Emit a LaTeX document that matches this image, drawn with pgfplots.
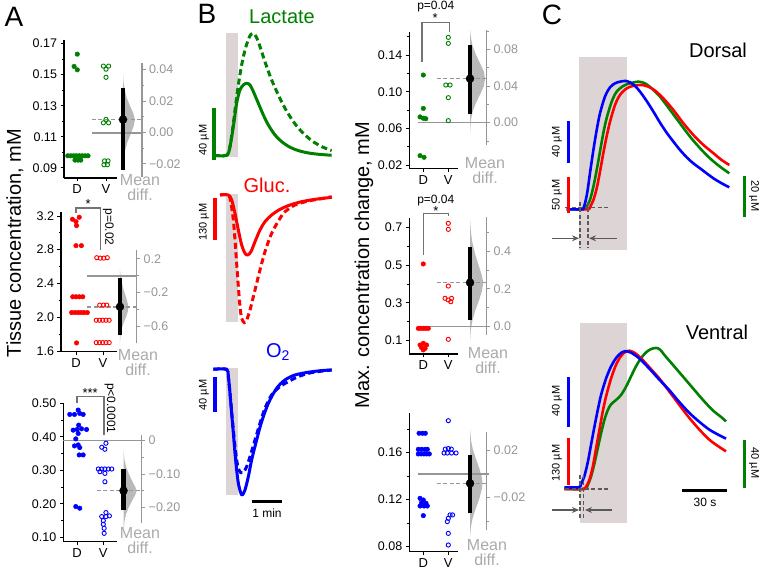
\documentclass[border=0pt]{standalone}
\usepackage{fontspec}
\setmainfont{Liberation Sans}
\usepackage{pgfplots}
\pgfplotsset{compat=1.18}
\usetikzlibrary{arrows.meta}
\definecolor{dgreen}{RGB}{0,128,0}
\definecolor{gcol}{RGB}{150,150,150}
\definecolor{tcol}{RGB}{170,170,170}
\definecolor{stimc}{RGB}{221,213,213}
\definecolor{vcol}{RGB}{185,185,185}
\definecolor{bcol}{RGB}{115,115,115}
\definecolor{acol}{RGB}{90,90,90}
\newcommand{\fs}[1]{\fontsize{#1}{#1}\selectfont}
\tikzset{brk/.style={bcol, line width=1.5pt}, btxt/.style={inner sep=0pt}}
\pgfplotsset{
 swarm/.style={scale only axis, clip=false, anchor=south west,
  axis x line=bottom, axis y line=left,
  axis line style={-, line width=1.4pt, black},
  tick align=outside, major tick length=3.5pt, minor tick length=2pt,
  tick style={black, line width=0.8pt}, scaled y ticks=false,
  xtick={1,2}, xticklabels={D,V},
  x tick label style={font=\fs{13}},
  y tick label style={font=\fs{12.5}},
  yticklabel style={/pgf/number format/fixed, /pgf/number format/fixed zerofill, /pgf/number format/assume math mode=true}},
 diffax/.style={scale only axis, clip=false, anchor=south east, width=0.5pt,
  xmin=0, xmax=1, axis x line=none, axis y line=right, xtick=\empty,
  scaled y ticks=false, scaled x ticks=false,
  axis line style={-, line width=1.4pt, gcol},
  tick align=outside, major tick length=3.5pt, minor tick length=2pt,
  tick style={gcol, line width=0.8pt},
  y tick label style={font=\fs{12.5}, text=gcol}},
 bpanel/.style={scale only axis, clip=false, hide axis, anchor=south west, scaled ticks=false},
 meanl/.style={gcol, line width=1.5pt},
 dashl/.style={gcol, line width=1.5pt, dash pattern=on 4pt off 2.5pt},
 ci/.style={black, line width=4.5pt},
 mdot/.style={only marks, mark=*, mark size=4pt, black},
 viol/.style={fill=vcol, draw=none},
 fdot/.style={only marks, mark=*, mark size=2.3pt},
 odot/.style={only marks, mark=o, mark size=2.1pt, mark options={line width=0.9pt}},
 sol/.style={line width=3pt, smooth, line join=round},
 dsh/.style={line width=3pt, smooth, dash pattern=on 6pt off 3.5pt},
 cl/.style={line width=2.6pt, smooth, line join=round}
}
\begin{document}
\begin{tikzpicture}[x=1pt,y=1pt]
\useasboundingbox (0,0) rectangle (762,569);
% panel letters and labels
\node[font=\fs{28}] at (14,552) {A};
\node[font=\fs{28}] at (207,555) {B};
\node[font=\fs{28}] at (552,554) {C};
\node[font=\fs{20}, rotate=90] at (15,326) {Tissue concentration, mM};
\node[font=\fs{20}, rotate=90] at (364,304) {Max. concentration change, mM};
% mean diff labels
\foreach \x/\y in {140/381, 138/206, 140/28, 485/398, 488/208, 487/16}
  \node[font=\fs{16}, text=tcol, align=center, inner sep=0pt] at (\x,\y) {Mean\\[-1pt]diff.};
% stimulus shading
\fill[stimc] (226,536) rectangle (238,412);
\fill[stimc] (226,375) rectangle (238,247);
\fill[stimc] (226,201) rectangle (238,74);
\fill[stimc] (579,512) rectangle (627,319);
\fill[stimc] (580,246) rectangle (627,46);

%================ A1 =================
\begin{axis}[swarm, at={(64pt,391pt)}, width=53pt, height=138pt,
 xmin=0.552, xmax=2.379, ymin=0.0835, ymax=0.1723,
 ytick={0.09,0.11,0.13,0.15,0.17}, minor ytick={0.10,0.12,0.14,0.16},
 yticklabel style={/pgf/number format/precision=2}]
\addplot[viol] coordinates {(2.586,0.150) (2.606,0.145) (2.646,0.140) (2.716,0.135) (2.826,0.130) (2.946,0.125) (2.996,0.121) (2.956,0.117) (2.856,0.112) (2.746,0.107) (2.666,0.102) (2.616,0.097) (2.596,0.092) (2.586,0.087)};
\addplot[meanl] coordinates {(1.517,0.1126) (3.241,0.1126)};
\addplot[dashl] coordinates {(1.517,0.1211) (3.241,0.1211)};
\addplot[ci] coordinates {(2.586,0.0889) (2.586,0.1414)};
\addplot[mdot] coordinates {(2.586,0.1211)};
\addplot[fdot, dgreen] coordinates {(1.01,0.1632) (0.90,0.1553) (1.01,0.1531) (0.68,0.0978) (0.78,0.0978) (0.88,0.0978) (0.98,0.0978) (1.08,0.0978) (1.18,0.0978) (1.28,0.0978) (1.38,0.0978) (0.93,0.0950) (1.03,0.0950) (1.13,0.0950)};
\addplot[odot, dgreen] coordinates {(1.91,0.1555) (2.09,0.1555) (2.0,0.1535) (2.0,0.1483) (2.0,0.1212) (1.91,0.1190) (2.09,0.1190) (1.95,0.0945) (2.07,0.0945) (1.93,0.0920) (2.05,0.0920)};
\end{axis}
\begin{axis}[diffax, at={(142pt,392pt)}, height=114pt, ymin=-0.0284, ymax=0.0442,
 ytick={-0.02,0,0.02,0.04}, yticklabels={−0.02,0.00,0.02,0.04}, minor ytick={-0.01,0.01,0.03}]
\end{axis}

%================ A2 =================
\begin{axis}[swarm, at={(61pt,217.2pt)}, width=56pt, height=140.1pt,
 xmin=0.444, xmax=2.52, ymin=1.59, ymax=3.25,
 ytick={1.6,2.0,2.4,2.8,3.2}, minor ytick={1.8,2.2,2.6,3.0},
 yticklabel style={/pgf/number format/precision=1}]
\addplot[viol] coordinates {(2.63,2.56) (2.65,2.50) (2.68,2.44) (2.72,2.38) (2.77,2.32) (2.83,2.26) (2.89,2.20) (2.93,2.14) (2.93,2.08) (2.88,2.02) (2.80,1.96) (2.73,1.90) (2.68,1.84) (2.65,1.78) (2.63,1.70)};
\addplot[meanl] coordinates {(1.42,2.491) (3.25,2.491)};
\addplot[dashl] coordinates {(1.42,2.123) (3.25,2.123)};
\addplot[ci] coordinates {(2.63,1.786) (2.63,2.459)};
\addplot[mdot] coordinates {(2.63,2.123)};
\draw[brk] (axis cs:1.0,3.232) -- (axis cs:1.0,3.291) -- (axis cs:1.91,3.291) -- (axis cs:1.91,2.796);
\node[btxt, font=\fs{13}] at (axis cs:1.45,3.34) {*};
\node[btxt, font=\fs{12}, rotate=-90] at (axis cs:2.2,3.07) {p=0.02};
\addplot[fdot, red] coordinates {(0.87,3.160) (1.0,3.133) (1.12,3.184) (1.02,3.085) (1.0,2.848) (1.2,2.848) (0.88,2.242) (1.0,2.242) (1.12,2.242) (1.25,2.242) (0.84,2.055) (0.96,2.055) (1.08,2.055) (1.19,2.055) (1.30,2.055) (1.42,2.055) (1.02,1.695)};
\addplot[odot, red] coordinates {(1.77,2.705) (1.90,2.700) (2.03,2.700) (2.16,2.705) (1.88,2.143) (2.02,2.143) (2.14,2.143) (1.75,1.964) (1.87,1.964) (1.99,1.964) (2.11,1.964) (2.23,1.964) (1.75,1.699) (1.87,1.699) (1.99,1.699) (2.11,1.699) (2.23,1.699)};
\end{axis}
\begin{axis}[diffax, at={(136.7pt,225.7pt)}, height=93.3pt, ymin=-0.804, ymax=0.305,
 ytick={-0.6,-0.2,0.2}, yticklabels={−0.6,−0.2,0.2}, minor ytick={-0.4,0}]
\end{axis}

%================ A3 =================
\begin{axis}[swarm, at={(63.3pt,27.3pt)}, width=53.4pt, height=139pt,
 xmin=0.473, xmax=2.51, ymin=0.087, ymax=0.502,
 ytick={0.1,0.2,0.3,0.4,0.5}, minor ytick={0.15,0.25,0.35,0.45},
 yticklabel style={/pgf/number format/precision=2}]
\addplot[viol] coordinates {(2.77,0.36) (2.81,0.33) (2.87,0.31) (2.97,0.29) (3.09,0.27) (3.22,0.25) (3.27,0.238) (3.21,0.225) (3.10,0.21) (2.97,0.19) (2.87,0.17) (2.81,0.15) (2.78,0.12) (2.77,0.09)};
\addplot[meanl] coordinates {(0.473,0.3886) (3.48,0.3886)};
\addplot[dashl] coordinates {(1.75,0.2393) (3.48,0.2393)};
\addplot[ci] coordinates {(2.77,0.1816) (2.77,0.303)};
\addplot[mdot] coordinates {(2.77,0.2393)};
\draw[brk] (axis cs:1.0,0.50) -- (axis cs:1.0,0.52) -- (axis cs:2.02,0.52) -- (axis cs:2.02,0.4055);
\node[btxt, font=\fs{13}] at (axis cs:1.5,0.531) {***};
\node[btxt, font=\fs{12}, rotate=-90] at (axis cs:2.26,0.485) {p<0.0001};
\addplot[fdot, blue] coordinates {(1.04,0.480) (0.72,0.467) (0.90,0.467) (1.10,0.470) (1.23,0.467) (1.06,0.435) (0.85,0.420) (1.0,0.422) (1.17,0.424) (1.36,0.422) (1.04,0.410) (0.95,0.394) (0.90,0.373) (1.04,0.376) (1.10,0.368) (1.08,0.346) (1.23,0.346) (0.95,0.192) (1.10,0.187)};
\addplot[odot, blue] coordinates {(2.10,0.381) (1.94,0.369) (2.06,0.363) (1.81,0.304) (1.94,0.304) (2.06,0.304) (2.19,0.304) (2.32,0.304) (1.87,0.296) (2.06,0.291) (2.06,0.266) (2.10,0.174) (1.94,0.162) (2.10,0.162) (2.23,0.164) (2.0,0.150) (2.0,0.139) (2.03,0.127) (2.03,0.112)};
\end{axis}
\begin{axis}[diffax, at={(141.7pt,45.7pt)}, height=88.3pt, ymin=-0.2468, ymax=0.0169,
 ytick={-0.2,-0.1,0}, yticklabels={−0.20,−0.10,0}, minor ytick={-0.15,-0.05}]
\end{axis}

%================ B1 (middle column) =================
\begin{axis}[swarm, at={(409.3pt,400.7pt)}, width=49pt, height=136.6pt,
 xmin=0.44, xmax=2.4, ymin=0.0164, ymax=0.1655,
 ytick={0.02,0.06,0.10,0.14}, minor ytick={0.04,0.08,0.12,0.16},
 yticklabel style={/pgf/number format/precision=2}]
\addplot[viol] coordinates {(2.87,0.168) (2.90,0.160) (2.97,0.150) (3.11,0.140) (3.29,0.130) (3.42,0.122) (3.47,0.114) (3.42,0.106) (3.29,0.098) (3.11,0.088) (2.97,0.078) (2.90,0.068) (2.87,0.055)};
\addplot[meanl] coordinates {(0.77,0.0662) (3.54,0.0662)};
\addplot[dashl] coordinates {(1.53,0.1142) (3.54,0.1142)};
\addplot[ci] coordinates {(2.87,0.0756) (2.87,0.1509)};
\addplot[mdot] coordinates {(2.87,0.1142)};
\draw[brk] (axis cs:0.95,0.1327) -- (axis cs:0.95,0.1753) -- (axis cs:2.04,0.1753) -- (axis cs:2.04,0.1655);
\node[btxt, font=\fs{13}] at (axis cs:1.47,0.1800) {*};
\node[btxt, font=\fs{12}] at (axis cs:1.5,0.1925) {p=0.04};
\addplot[fdot, dgreen] coordinates {(1.0,0.1182) (1.0,0.0818) (0.87,0.0725) (1.0,0.0710) (1.1,0.0705) (0.87,0.0302) (1.03,0.0284)};
\addplot[odot, dgreen] coordinates {(2.0,0.1593) (2.0,0.1527) (1.9,0.1073) (2.07,0.1073) (2.0,0.0935) (2.0,0.0684)};
\end{axis}
\begin{axis}[diffax, at={(486.7pt,424pt)}, height=115pt, ymin=-0.0244, ymax=0.1011,
 ytick={0,0.04,0.08}, yticklabels={0.00,0.04,0.08}, minor ytick={-0.02,0.02,0.06,0.10}]
\end{axis}

%================ B2 =================
\begin{axis}[swarm, at={(409.3pt,215pt)}, width=49pt, height=135.7pt,
 xmin=0.44, xmax=2.4, ymin=0.0294, ymax=0.7476,
 ytick={0.1,0.3,0.5,0.7}, minor ytick={0.2,0.4,0.6},
 yticklabel style={/pgf/number format/precision=1}]
\addplot[viol] coordinates {(2.87,0.74) (2.90,0.68) (2.96,0.62) (3.07,0.56) (3.21,0.50) (3.33,0.45) (3.40,0.407) (3.34,0.36) (3.22,0.31) (3.08,0.26) (2.97,0.21) (2.90,0.16) (2.87,0.10)};
\addplot[meanl] coordinates {(0.77,0.174) (3.54,0.174)};
\addplot[dashl] coordinates {(1.53,0.407) (3.54,0.407)};
\addplot[ci] coordinates {(2.87,0.209) (2.87,0.598)};
\addplot[mdot] coordinates {(2.87,0.407)};
\draw[brk] (axis cs:1.0,0.553) -- (axis cs:1.0,0.774) -- (axis cs:2.0,0.774) -- (axis cs:2.0,0.760);
\node[btxt, font=\fs{13}] at (axis cs:1.5,0.787) {*};
\node[btxt, font=\fs{12}] at (axis cs:1.5,0.843) {p=0.04};
\addplot[fdot, red] coordinates {(1.0,0.506) (0.8,0.165) (0.9,0.165) (1.0,0.165) (1.1,0.165) (1.2,0.165) (0.87,0.077) (1.0,0.086) (1.13,0.077) (0.93,0.063) (1.07,0.059) (1.0,0.051)};
\addplot[odot, red] coordinates {(2.0,0.721) (2.0,0.689) (2.0,0.389) (1.87,0.324) (2.13,0.324) (2.0,0.315) (2.1,0.306) (2.0,0.107)};
\end{axis}
\begin{axis}[diffax, at={(486.7pt,234pt)}, height=118.3pt, ymin=-0.044, ymax=0.582,
 ytick={0,0.2,0.4}, yticklabels={0.0,0.2,0.4}, minor ytick={0.1,0.3,0.5}]
\end{axis}

%================ B3 =================
\begin{axis}[swarm, at={(409.3pt,17.3pt)}, width=49pt, height=138.4pt,
 xmin=0.44, xmax=2.4, ymin=0.0757, ymax=0.1935,
 ytick={0.08,0.12,0.16}, minor ytick={0.10,0.14,0.18},
 yticklabel style={/pgf/number format/precision=2}]
\addplot[viol] coordinates {(2.87,0.180) (2.91,0.170) (2.99,0.162) (3.12,0.154) (3.25,0.146) (3.33,0.140) (3.37,0.134) (3.33,0.128) (3.23,0.120) (3.09,0.112) (2.97,0.104) (2.90,0.096) (2.87,0.088)};
\addplot[meanl] coordinates {(0.79,0.1418) (3.63,0.1418)};
\addplot[dashl] coordinates {(1.53,0.1339) (3.54,0.1339)};
\addplot[ci] coordinates {(2.87,0.1084) (2.87,0.158)};
\addplot[mdot] coordinates {(2.87,0.1339)};
\addplot[fdot, blue] coordinates {(0.83,0.1765) (0.97,0.1765) (1.08,0.1765) (0.8,0.1628) (0.93,0.1628) (1.07,0.1628) (1.16,0.1628) (0.8,0.1589) (0.91,0.1589) (1.02,0.1589) (1.13,0.1589) (1.24,0.1589) (0.87,0.1211) (1.0,0.1197) (0.93,0.1174) (1.11,0.1169) (0.87,0.1146) (1.03,0.1146) (1.16,0.1146) (1.0,0.1064)};
\addplot[odot, blue] coordinates {(2.0,0.1872) (1.88,0.163) (2.0,0.1635) (2.12,0.163) (1.83,0.1597) (1.96,0.1597) (2.13,0.1597) (2.31,0.1597) (2.07,0.107) (2.17,0.107) (2.0,0.1041) (1.96,0.1013) (2.0,0.0913) (2.0,0.0814)};
\end{axis}
\begin{axis}[diffax, at={(486.7pt,39pt)}, height=98.3pt, ymin=-0.0476, ymax=0.0361,
 ytick={-0.02,0.02}, yticklabels={−0.02,0.02}, minor ytick={-0.04,0}]
\end{axis}

%================ Panel B curves =================
\node[font=\fs{20}, text=dgreen] at (282,552) {Lactate};
\node[font=\fs{20}, text=red] at (267,384) {Gluc.};
\node[font=\fs{20}, text=blue] at (278,217) {O\textsubscript{2}};
\begin{axis}[bpanel, at={(212pt,411.1pt)}, width=121pt, height=127.4pt, xmin=-28, xmax=214, ymin=-2, ymax=96]
\addplot[dsh, dgreen] coordinates {(-25.3,0) (1.3,0) (8,6.7) (14.7,24.6) (18,34.9) (24.7,54.1) (31.3,69.5) (38,81) (44.7,89.2) (50,93.1) (54.7,93.8) (59.3,91.8) (64.7,87.4) (71.3,79.7) (81.3,68.2) (91.3,57.9) (104.7,46.4) (118,36.2) (134.7,25.9) (151.3,18.2) (171.3,11.3) (191.3,6.7) (211.3,3.6)};
\addplot[sol, dgreen] coordinates {(-25.3,0) (1.3,0) (8,6.7) (14.7,22.1) (21.3,40) (28,50.3) (34.7,54.1) (41.3,55.4) (48,54.1) (54.7,49) (64.7,40) (74.7,31) (84.7,23.3) (98,15.6) (111.3,10.5) (128,6.2) (144.7,3.6) (164.7,1.8) (184.7,0.8) (211.3,0)};
\end{axis}
\begin{axis}[bpanel, at={(212pt,242.6pt)}, width=121pt, height=134.6pt, xmin=-28, xmax=214, ymin=-410, ymax=10]
\addplot[dsh, red] coordinates {(-12,0) (4.7,0) (10,-26) (14.7,-78) (18,-140.4) (21.3,-213.2) (24.7,-286) (28,-348.4) (31.3,-384.8) (36.7,-398.3) (41.3,-390) (48,-358.8) (58,-296.4) (68,-234) (78,-176.8) (91.3,-119.6) (108,-72.8) (118,-52) (138,-31.2) (164.7,-18.7) (191.3,-11.4) (211.3,-5.2)};
\addplot[sol, red] coordinates {(-12,0) (4.7,0) (11.3,-15.6) (18,-57.2) (24.7,-109.2) (31.3,-156) (38,-182) (43.3,-187.2) (50,-176.8) (58,-145.6) (68,-109.2) (78,-83.2) (91.3,-62.4) (108,-44.7) (128,-31.2) (151.3,-20.8) (178,-13.5) (211.3,-7.3)};
\end{axis}
\begin{axis}[bpanel, at={(212pt,68.5pt)}, width=121pt, height=135.6pt, xmin=-28, xmax=214, ymin=-150, ymax=5]
\addplot[dsh, blue] coordinates {(-25.3,0) (1.3,0) (4.7,-8.4) (8,-27.4) (11.3,-48.4) (14.7,-69.3) (18,-88.4) (21.3,-103.6) (24.7,-113.2) (29.3,-118.1) (34.7,-118.1) (41.3,-111.3) (48,-99.8) (58,-80.8) (68,-61.7) (78,-44.6) (91.3,-29.3) (108,-19.8) (124.7,-14.1) (144.7,-8.4) (171.3,-3.8) (211.3,-0.8)};
\addplot[sol, blue] coordinates {(-25.3,0) (1.3,0) (4.7,-8.4) (8,-27.4) (11.3,-50.3) (14.7,-73.2) (18,-96) (21.3,-115.1) (24.7,-130.3) (29.3,-141) (32.7,-143.6) (38,-137.9) (44.7,-122.7) (51.3,-103.6) (61.3,-80.8) (71.3,-59.8) (84.7,-38.9) (101.3,-21.7) (118,-12.2) (138,-6.5) (164.7,-3.4) (191.3,-1.5) (211.3,-0.8)};
\end{axis}
% scale bars B
\draw[dgreen, line width=3.5pt] (214,461) -- (214,409);
\draw[red, line width=3.5pt] (215,371) -- (215,329);
\draw[blue, line width=3.5pt] (215,192) -- (215,157);
\draw[black, line width=3pt] (252,67) -- (282,67);
\node[font=\fs{12}] at (267,56) {1 min};
\node[font=\fs{11}, rotate=90] at (204,429) {40 µM};
\node[font=\fs{11}, rotate=90] at (204,347) {130 µM};
\node[font=\fs{11}, rotate=90] at (204,174) {40 µM};

%================ Panel C =================
\node[font=\fs{20}] at (718,519) {Dorsal};
\node[font=\fs{20}] at (717,237) {Ventral};
\begin{axis}[bpanel, at={(561pt,346.9pt)}, width=177pt, height=153.6pt, xmin=-12, xmax=106, ymin=-0.1, ymax=1.1]
\addplot[cl, dgreen] coordinates {(-8.2,0) (2.9,0) (5.1,0.021) (7.3,0.073) (9.6,0.177) (11.8,0.307) (14,0.451) (16.2,0.594) (18.4,0.711) (21.8,0.841) (25.1,0.919) (29.6,0.964) (34,0.984) (39.6,0.997) (44,0.984) (48.4,0.945) (54,0.880) (60.7,0.776) (67.3,0.672) (74,0.568) (80.7,0.477) (87.3,0.398) (94,0.333) (100.2,0.281)};
\addplot[cl, red] coordinates {(-1.6,0) (6.2,0) (7.3,0.016) (9.6,0.073) (11.8,0.164) (14,0.294) (16.2,0.438) (18.4,0.568) (20.7,0.685) (24,0.815) (27.3,0.893) (31.8,0.945) (36.2,0.964) (41.8,0.971) (46.2,0.958) (50.7,0.927) (56.2,0.867) (62.9,0.776) (69.6,0.672) (76.2,0.581) (82.9,0.503) (89.6,0.438) (95.1,0.385) (100.2,0.346)};
\addplot[cl, blue] coordinates {(-8.2,0) (1.8,0) (2.9,0.008) (4,0.047) (5.6,0.138) (7.3,0.281) (9.6,0.464) (11.8,0.620) (14,0.750) (17.3,0.880) (20.7,0.953) (24,0.984) (27.3,0.997) (31.3,1.003) (34,0.992) (37.3,0.964) (40.7,0.919) (45.1,0.846) (49.6,0.763) (54,0.677) (58.4,0.599) (62.9,0.529) (67.3,0.464) (71.8,0.406) (76.2,0.359) (80.7,0.320) (85.1,0.281) (89.6,0.242) (95.1,0.203) (100.2,0.172)};
\end{axis}
\begin{axis}[bpanel, at={(561pt,66.2pt)}, width=177pt, height=165.6pt, xmin=-12, xmax=106, ymin=-0.1, ymax=1.1]
\addplot[cl, dgreen] coordinates {(-9.7,0) (3.6,0) (5.8,0.029) (8.0,0.089) (10.3,0.186) (12.5,0.295) (14.7,0.403) (16.9,0.500) (19.2,0.572) (21.4,0.614) (24.7,0.645) (28.0,0.681) (31.4,0.742) (34.7,0.816) (38.0,0.889) (41.4,0.949) (44.7,0.990) (48.0,1.014) (51.4,1.022) (54.0,1.010) (58.0,0.957) (62.5,0.901) (69.2,0.816) (75.8,0.732) (82.5,0.647) (89.2,0.570) (94.7,0.522) (98.0,0.490)};
\addplot[cl, red] coordinates {(-9.7,0) (2.5,0) (4.7,0.017) (6.9,0.065) (9.2,0.162) (11.4,0.295) (13.6,0.428) (15.8,0.560) (18.0,0.669) (21.4,0.802) (24.7,0.900) (28.0,0.964) (31.4,0.998) (33.6,1.002) (36.9,0.988) (41.4,0.947) (46.9,0.882) (53.6,0.800) (60.3,0.705) (66.9,0.609) (73.6,0.514) (80.3,0.430) (86.9,0.357) (93.6,0.304) (98.0,0.273)};
\addplot[cl, blue] coordinates {(-9.7,0.012) (-0.2,0.012) (1.4,0.036) (3.6,0.094) (5.8,0.191) (8.0,0.319) (10.3,0.452) (12.5,0.572) (14.7,0.681) (18.0,0.800) (21.4,0.889) (24.7,0.949) (28.0,0.986) (30.9,0.998) (34.7,0.988) (40.3,0.945) (46.9,0.872) (53.6,0.792) (60.3,0.715) (66.9,0.630) (73.6,0.551) (80.3,0.486) (86.9,0.430) (93.6,0.389) (98.0,0.365)};
\end{axis}
% C annotations
\begin{scope}[acol, line width=1.2pt]
\draw[dash pattern=on 4pt off 2.5pt] (565,361.3) -- (610,361.3);
\draw[dash pattern=on 4pt off 2.5pt] (580,367) -- (580,321);
\draw[dash pattern=on 4pt off 2.5pt] (588,367) -- (588,321);
\draw[-{Stealth[length=7pt,width=6pt]}] (552,330.7) -- (579,330.7);
\draw[-{Stealth[length=7pt,width=6pt]}] (617,330.7) -- (589,330.7);
\draw[dash pattern=on 4pt off 2.5pt] (565,80) -- (610,80);
\draw[dash pattern=on 4pt off 2.5pt] (580,94) -- (580,49);
\draw[dash pattern=on 4pt off 2.5pt] (583.5,94) -- (583.5,49);
\draw[-{Stealth[length=7pt,width=6pt]}] (552,59) -- (579,59);
\draw[-{Stealth[length=7pt,width=6pt]}] (612,59) -- (585,59);
\end{scope}
\draw[blue, line width=3pt] (568,448) -- (568,406);
\draw[red, line width=3pt] (568,392) -- (568,356);
\draw[dgreen, line width=3pt] (744,393) -- (744,352);
\draw[blue, line width=3pt] (568,192) -- (568,142);
\draw[red, line width=3pt] (568,131) -- (568,84);
\draw[dgreen, line width=3pt] (744,129) -- (744,81);
\draw[black, line width=3pt] (682,78) -- (727,78);
\node[font=\fs{12}] at (705,67) {30 s};
\node[font=\fs{11}, rotate=90] at (557,427) {40 µM};
\node[font=\fs{11}, rotate=90] at (557,374) {50 µM};
\node[font=\fs{11}, rotate=-90] at (754,373) {20 µM};
\node[font=\fs{11}, rotate=90] at (557,168) {40 µM};
\node[font=\fs{11}, rotate=90] at (557,106) {130 µM};
\node[font=\fs{11}, rotate=-90] at (754,106) {40 µM};
\end{tikzpicture}
\end{document}
